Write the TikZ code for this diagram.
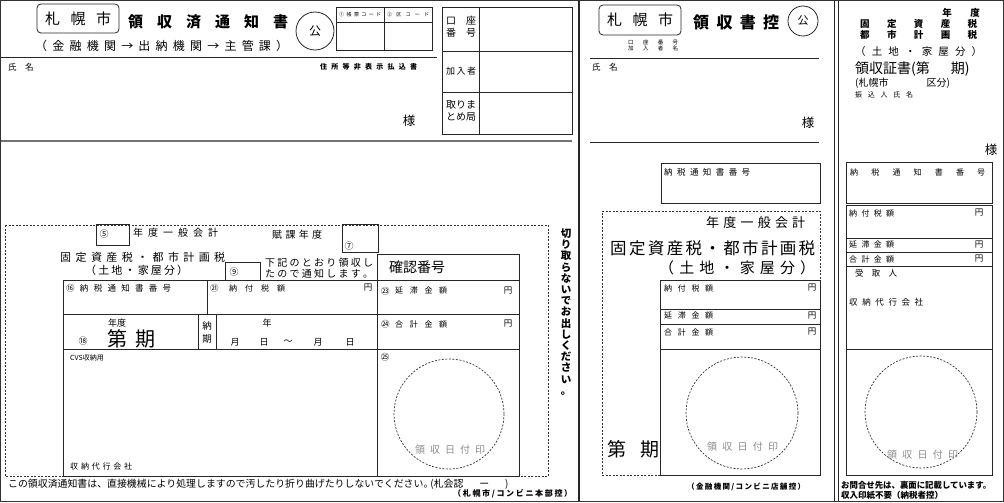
\documentclass[tikz,border=0pt]{standalone}
\usepackage{fontspec}
\newfontfamily\jp{Noto Sans CJK JP}
\newcommand\fsz[1]{\fontsize{#1}{#1}\selectfont}
\def\sprloop#1{\ifx#1\relax\else\hfill#1\expandafter\sprloop\fi}
\def\sprfirst#1{#1\sprloop}
\newcommand\spr[2]{\makebox[#1pt][s]{\sprfirst#2\relax}}
\tikzset{
  every node/.style={font=\jp, inner sep=0pt},
  lbl/.style={anchor=west},
  ln/.style={draw=black!85, line width=0.8pt},
  dsh/.style={draw=black!80, line width=0.7pt, dash pattern=on 2pt off 1.5pt},
  gr/.style={text=black!45},
}
\begin{document}
\begin{tikzpicture}[x=1pt,y=-1pt]
\useasboundingbox (0,0) rectangle (1004,503);
\fill[white] (0,0) rectangle (1004,503);
% frame and dividers
\draw[line width=1.2pt, black!80] (0.6,0.6) rectangle (1003.4,501.2);
\draw[line width=1.2pt, black!85] (579,1) -- (579,501);
\draw[ln] (834,1) -- (834,501);
\draw[ln] (838,1) -- (838,501);

% ===== left top =====
\draw[ln, rounded corners=4pt] (37,4) rectangle (119,33);
\node[lbl] (t1) at (45,19) {\fsz{15}\spr{66}{札幌市}};
\node[lbl] (t2) at (128,22) {\fsz{15}\bfseries\spr{160}{領収済通知書}};
\draw[ln] (315,31) circle (19);
\node (t3) at (315,31) {\fsz{12}公};
\node[lbl] (t4) at (35,46) {\fsz{12}\spr{253}{（金融機関→出納機関→主管課）}};
\draw[ln] (1,57) -- (437,57);
\draw[ln] (336,7) rectangle (432,50);
\draw[ln] (336,22) -- (432,22);
\draw[ln] (384,7) -- (384,50);
\node[lbl] (t5) at (339,14.5) {\fsz{5}\spr{42}{①帳票コード}};
\node[lbl] (t6) at (387,14.5) {\fsz{5}\spr{42}{②区コード}};
\node[lbl] (t7) at (8,67) {\fsz{8.5}氏\hspace{1em}名};
\node[lbl] (t8) at (320,67) {\fsz{7}\bfseries\spr{97}{住所等非表示払込書}};
\node (t9) at (409,121) {\fsz{12.5}様};
\draw[ln] (442,7) rectangle (572,134);
\draw[ln] (479,7) -- (479,134);
\draw[ln] (442,51) -- (572,51);
\draw[ln] (442,92) -- (572,92);
\node[lbl] (t10) at (446,21) {\fsz{10}\spr{30}{口座}};
\node[lbl] (t11) at (446,33) {\fsz{10}\spr{30}{番号}};
\node[lbl] (t12) at (446,71) {\fsz{9}\spr{30}{加入者}};
\node[lbl] (t13) at (446,105) {\fsz{10}\spr{30}{取りま}};
\node[lbl] (t14) at (446,117) {\fsz{10}\spr{30}{とめ局}};
\draw[line width=2pt, black!55] (1,141) -- (572,141);

% ===== left bottom =====
\draw[dsh] (5,225) rectangle (548,476);
\draw[ln] (96,224) rectangle (129,245);
\node (t15) at (104,234) {\fsz{9}⑤};
\node[lbl] (t16) at (133,233) {\fsz{10}\spr{85}{年度一般会計}};
\node[lbl] (t17) at (272,235) {\fsz{10}\spr{50}{賦課年度}};
\draw[ln] (342,224) rectangle (378,252);
\node (t18) at (349,246) {\fsz{9}⑦};
\node[lbl] (t19) at (60,257) {\fsz{11}\spr{165}{固定資産税・都市計画税}};
\node[lbl] (t20) at (85,270) {\fsz{11}\spr{103}{（土地・家屋分）}};
\draw[ln] (225,262) rectangle (260,280);
\node (t21) at (234,272) {\fsz{9}⑨};
\node[lbl] (t22) at (265,263) {\fsz{10}\spr{108}{下記のとおり領収し}};
\node[lbl] (t23) at (265,274) {\fsz{10}\spr{108}{たので通知します。}};
\draw[ln] (377,254) rectangle (519,280);
\node[lbl] (t24) at (389,267) {\fsz{14}確認番号};
\draw[ln] (63,280) rectangle (519,476);
\draw[ln] (377,280) -- (377,476);
\draw[ln] (63,314) -- (519,314);
\draw[ln] (63,349) -- (519,349);
\draw[ln] (207,280) -- (207,314);
\draw[ln] (198,314) -- (198,349);
\draw[ln] (216,314) -- (216,349);
\node[lbl] (t25) at (66,288) {\fsz{8.5}\spr{105}{⑯納税通知書番号}};
\node[lbl] (t26) at (210,288) {\fsz{8.5}㉑};
\node[lbl] (t27) at (229,288) {\fsz{8}\spr{56}{納付税額}};
\node (t28) at (368,288) {\fsz{8.5}円};
\node (t29) at (117,323) {\fsz{9}年度};
\node (t30) at (83,341) {\fsz{9}⑱};
\node (t31) at (117,339) {\fsz{20}第};
\node (t32) at (145,339) {\fsz{20}期};
\node (t33) at (207,326) {\fsz{9.5}納};
\node (t34) at (207,339) {\fsz{9.5}期};
\node (t35) at (267,323) {\fsz{9}年};
\node (t36) at (235,342) {\fsz{9}月};
\node (t37) at (264,342) {\fsz{9}日};
\node (t38) at (288,342) {\fsz{9}～};
\node (t39) at (318,342) {\fsz{9}月};
\node (t40) at (350,342) {\fsz{9}日};
\node[lbl] (t41) at (381,291) {\fsz{8.5}㉓};
\node[lbl] (t42) at (395,291) {\fsz{8}\spr{52}{延滞金額}};
\node (t43) at (508,291) {\fsz{8.5}円};
\node[lbl] (t44) at (381,324) {\fsz{8.5}㉔};
\node[lbl] (t45) at (395,324) {\fsz{8}\spr{52}{合計金額}};
\node (t46) at (508,324) {\fsz{8.5}円};
\node (t47) at (385,357) {\fsz{8.5}㉕};
\node[lbl] (t48) at (70,358) {\fsz{7}CVS収納用};
\node[lbl] (t49) at (70,466) {\fsz{8}\spr{62}{収納代行会社}};
\draw[dsh] (449,414) circle (55);
\node[lbl,gr] (t50) at (415,450) {\fsz{10}\spr{70}{領収日付印}};
\node[align=center, font=\jp\fontsize{10.5}{11.2}\selectfont\bfseries] (t51) at (566,312)
  {切\\り\\取\\ら\\な\\い\\で\\お\\出\\し\\く\\だ\\さ\\い\\。};
\node[lbl] (t52) at (8,484) {\fsz{9.9}この領収済通知書は、直接機械により処理しますので汚したり折り曲げたりしないでください。\hspace{-0.3em}(札会認\hspace{1.6em}ー\hspace{1.6em})};
\node[lbl] (t53) at (453,494) {\fsz{8}\bfseries\spr{119}{（札幌市/コンビニ本部控）}};

% ===== middle =====
\draw[ln, rounded corners=4pt] (599,5) rectangle (681,35);
\node[lbl] (m1) at (607,20) {\fsz{15}\spr{66}{札幌市}};
\node[lbl] (m2) at (693,22) {\fsz{16}\bfseries\spr{86}{領収書控}};
\draw[ln] (803,21) circle (15);
\node (m3) at (803,21) {\fsz{11}公};
\node[lbl] (m4) at (628,42) {\fsz{5.5}\spr{50}{口座番号}};
\node[lbl] (m5) at (628,48) {\fsz{5.5}\spr{50}{加入者名}};
\draw[ln] (590,58) -- (819,58);
\node[lbl] (m6) at (592,67) {\fsz{8.5}氏\hspace{1em}名};
\node (m7) at (808,123) {\fsz{12.5}様};
\draw[ln] (590,142) -- (819,142);
\draw[ln] (661,163) rectangle (820,203);
\node[lbl] (m8) at (664,172) {\fsz{8.5}\spr{86}{納税通知書番号}};
\draw[dsh] (660,475) -- (602,475) -- (602,211) -- (820,211) -- (820,280);
\node[lbl] (m9) at (706,223) {\fsz{13}\spr{99}{年度一般会計}};
\node[lbl] (m10) at (610,248) {\fsz{16.5}\spr{205}{固定資産税・都市計画税}};
\node[lbl] (m11) at (659,268) {\fsz{15}\spr{156}{（土地・家屋分）}};
\draw[ln] (660,280) rectangle (820,475);
\draw[ln] (660,309) -- (820,309);
\draw[ln] (660,324) -- (820,324);
\draw[ln] (660,349) -- (820,349);
\node[lbl] (m12) at (664,288) {\fsz{8}\spr{49}{納付税額}};
\node (m13) at (812,288) {\fsz{8.5}円};
\node[lbl] (m14) at (664,316) {\fsz{8}\spr{49}{延滞金額}};
\node (m15) at (812,316) {\fsz{8.5}円};
\node[lbl] (m16) at (664,332) {\fsz{8}\spr{49}{合計金額}};
\node (m17) at (812,332) {\fsz{8.5}円};
\draw[dsh] (742,413) circle (56);
\node[lbl,gr] (m18) at (707,447) {\fsz{10}\spr{71}{領収日付印}};
\node (m19) at (617,449) {\fsz{19}第};
\node (m20) at (650,449) {\fsz{19}期};
\node[lbl] (m21) at (687,487) {\fsz{7.5}\bfseries\spr{118}{（金融機関/コンビニ店舗控）}};

% ===== right =====
\node (r1) at (947,12.5) {\fsz{9.5}\bfseries 年};
\node (r2) at (975,12.5) {\fsz{9.5}\bfseries 度};
\node[lbl] (r3) at (860,23.5) {\fsz{9.5}\bfseries\spr{117}{固定資産税}};
\node[lbl] (r4) at (860,34.5) {\fsz{9.5}\bfseries\spr{117}{都市計画税}};
\node[lbl] (r5) at (855,52) {\fsz{10.5}\spr{127}{（土地・家屋分）}};
\node[lbl] (r6) at (855,69) {\fsz{14}領収証書(第\hspace{1.5em}期)};
\node[lbl] (r7) at (855,83) {\fsz{10}(札幌市\hspace{3.8em}区分)};
\node[lbl] (r8) at (855,95) {\fsz{7}\spr{58}{振込人氏名}};
\node (r9) at (991,150) {\fsz{12.5}様};
\draw[ln] (846,162) rectangle (992,203);
\node[lbl] (r10) at (850,172) {\fsz{8}\spr{135}{納税通知書番号}};
\draw[ln] (846,205) rectangle (992,475);
\draw[ln] (846,238) -- (992,238);
\draw[ln] (846,252) -- (992,252);
\draw[ln] (846,266) -- (992,266);
\draw[ln] (846,349) -- (992,349);
\node[lbl] (r11) at (849,213) {\fsz{8}\spr{45}{納付税額}};
\node (r12) at (979,213) {\fsz{8.5}円};
\node[lbl] (r13) at (849,245) {\fsz{8}\spr{45}{延滞金額}};
\node (r14) at (979,245) {\fsz{8.5}円};
\node[lbl] (r15) at (849,259) {\fsz{8}\spr{45}{合計金額}};
\node (r16) at (979,259) {\fsz{8.5}円};
\node[lbl] (r17) at (855,273) {\fsz{8.5}\spr{42}{受取人}};
\node[lbl] (r18) at (849,302) {\fsz{8.5}\spr{74}{収納代行会社}};
\draw[dsh] (921,412) circle (56);
\node[lbl,gr] (r19) at (887,455) {\fsz{10}\spr{71}{領収日付印}};
\node[lbl] (r20) at (841,485) {\fsz{8.4}\bfseries お問合せ先は、裏面に記載しています。};
\node[lbl] (r21) at (841,495) {\fsz{8.5}\bfseries\spr{101}{収入印紙不要（納税者控）}};
\end{tikzpicture}
\end{document}
